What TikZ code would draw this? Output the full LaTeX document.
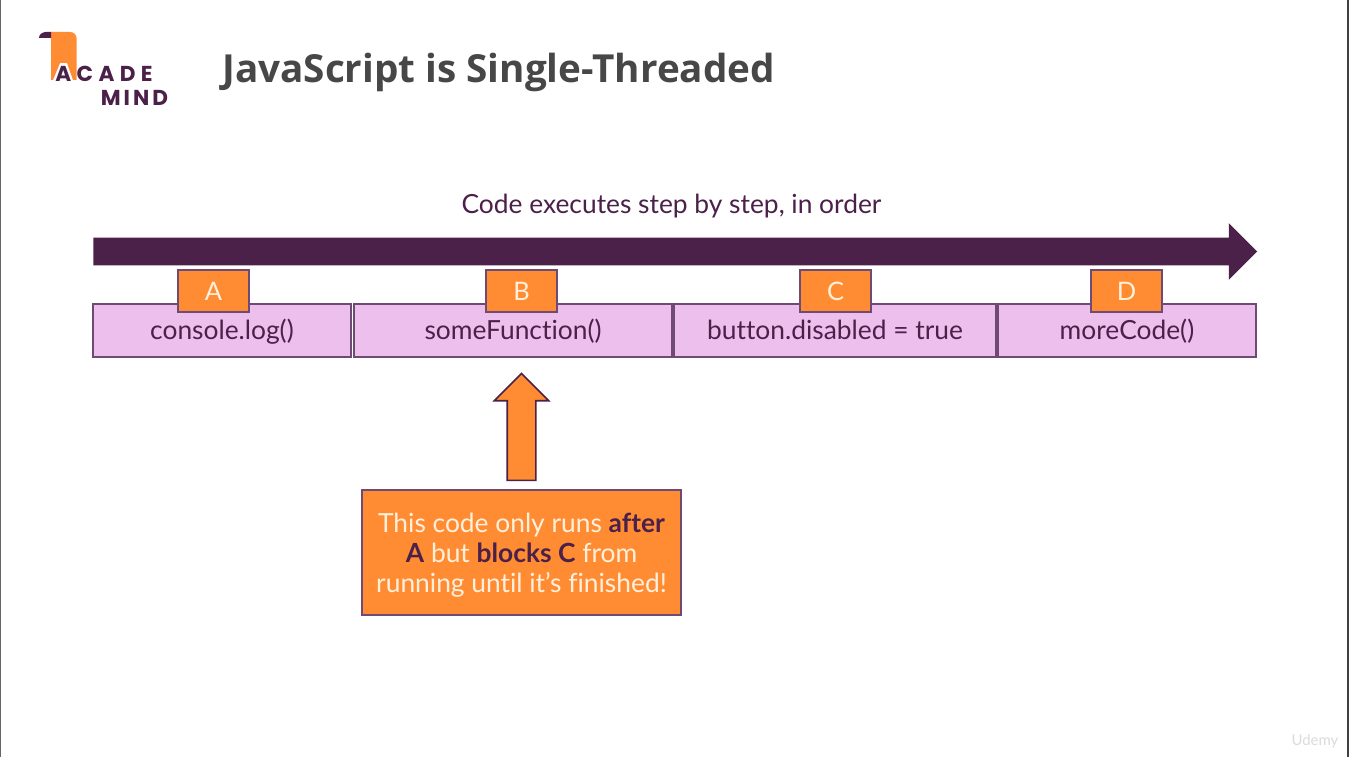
\documentclass[tikz,border=0pt]{standalone}
\usepackage{fontspec}
\usetikzlibrary{shapes.arrows}
\setmainfont[Ligatures=CommonOff]{Lato}
\newfontfamily\titlefont{Open Sans}
\newfontfamily\logofont[LetterSpace=14]{Poppins}
\newfontfamily\logowidefont[LetterSpace=25]{Poppins}
\definecolor{plum}{HTML}{4B2049}
\definecolor{orchid}{HTML}{ECBFEC}
\definecolor{plumline}{HTML}{6F4A75}
\definecolor{amber}{HTML}{FF8C33}
\definecolor{cream}{HTML}{FFF0DC}
\tikzset{
  funcbox/.style={draw=plumline,fill=orchid,text=plum,line width=0.9pt,minimum height=1.06cm,inner sep=0pt,text height=0.42cm,text depth=0.08cm,font=\fontsize{15}{18}\selectfont},
  tabbox/.style={draw=plumline,fill=amber,text=cream,line width=0.9pt,minimum width=1.42cm,minimum height=0.84cm,inner sep=0pt,font=\fontsize{14.5}{18}\selectfont},
  logotext/.style={text=plum,inner sep=0pt,font=\bfseries\fontsize{12.3}{13}\selectfont}
}
\begin{document}
\begin{tikzpicture}[x=0.02cm,y=-0.02cm]
  \useasboundingbox (0,0) rectangle (1349,757);
  \fill[white] (0,0) rectangle (1349,757);
  % frame edges
  \fill[black!60] (0,0) rectangle (1.5,757);
  \fill[black!75] (1347,0) rectangle (1349,757);
  % logo
  \fill[amber] (51,32) -- (70,32) to[out=0,in=90] (76.5,38) -- (76.5,80) -- (73,80) -- (67,63) -- (60,63) -- (53,80) -- (51,80) -- cycle;
  \fill[plum] (39,38) to[out=90,in=180] (46,32) -- (51,32) -- (51,38) -- cycle;
  \node[logotext,anchor=west] (acade) at (55,74) {\logowidefont ACADE};
  \node[logotext,anchor=east] (mind) at (168.5,98) {\logofont MIND};
  % title
  \node[text=black!72,anchor=west,inner sep=0pt,font=\titlefont\bfseries\fontsize{22}{26}\selectfont] (title) at (222,72) {JavaScript is Single-Threaded};
  % time line
  \node[text=plum,inner sep=0pt,font=\fontsize{15}{18}\selectfont] (order) at (671.5,206) {Code executes step by step, in order};
  \node[single arrow,fill=plum,single arrow head extend=0.29cm,minimum width=1.12cm,minimum height=23.28cm,inner sep=0.27cm,anchor=tail] (timeline) at (93,251.5) {};
  % statements
  \node[funcbox,minimum width=5.16cm] (log) at (222,330.5) {console.log()};
  \node[funcbox,minimum width=6.36cm] (some) at (513,330.5) {someFunction()};
  \node[funcbox,minimum width=6.44cm] (button) at (835,330.5) {button.disabled = true};
  \node[funcbox,minimum width=5.16cm] (more) at (1127,330.5) {moreCode()};
  \node[tabbox] (a) at (213.5,291) {A};
  \node[tabbox] (b) at (521.5,291) {B};
  \node[tabbox] (c) at (835.5,291) {C};
  \node[tabbox] (d) at (1126.5,291) {D};
  % note
  \node[draw=plumline,fill=amber,text=cream,line width=0.9pt,minimum width=6.38cm,minimum height=2.5cm,inner sep=0pt,align=center,font=\fontsize{15}{17.2}\selectfont] (note) at (521.5,552.5) {\rule{0pt}{14.3pt}This code only runs \textcolor{plum}{\textbf{after}}\\\textcolor{plum}{\textbf{A}} but \textcolor{plum}{\textbf{blocks C}} from\\running until it's finished!};
  \node[single arrow,draw=plum,fill=amber,line width=0.9pt,single arrow head extend=0.26cm,minimum width=1.06cm,minimum height=2.14cm,inner sep=0.27cm,rotate=90,anchor=tail] (up) at ([yshift=0.16cm]note.north) {};
  % watermark
  \node[text=black!14,inner sep=0pt,font=\fontsize{8.5}{10}\selectfont] (udemy) at (1315,741) {Udemy};
\end{tikzpicture}
\end{document}
